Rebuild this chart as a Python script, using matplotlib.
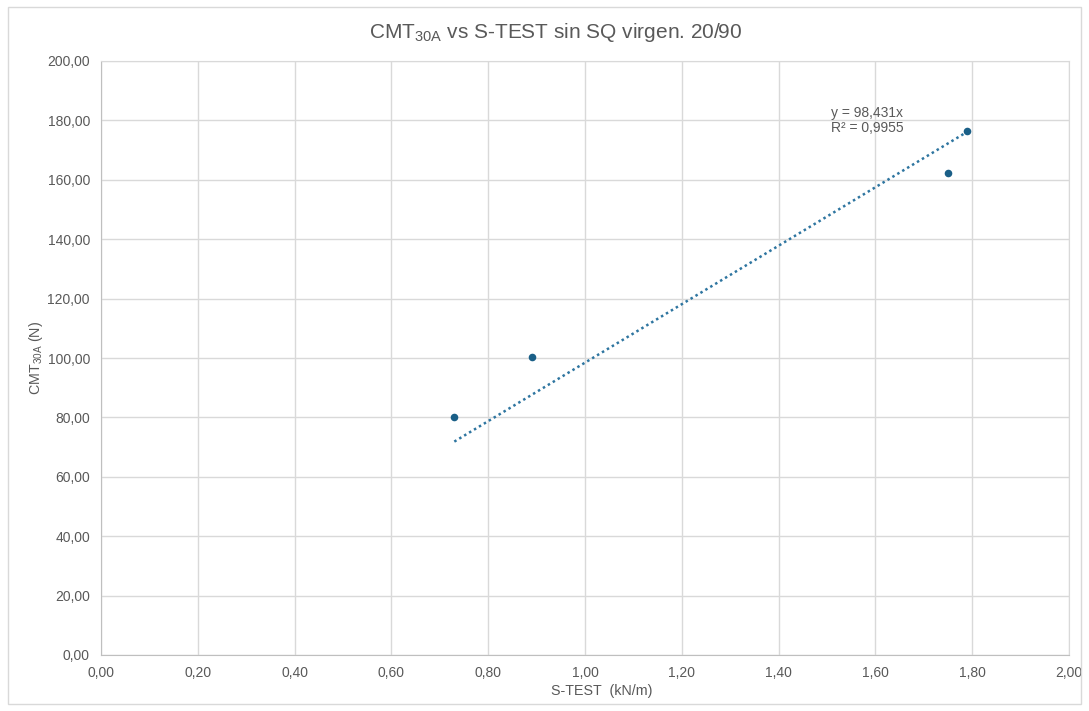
import matplotlib
matplotlib.use("Agg")
import matplotlib.pyplot as plt
from matplotlib.patches import Rectangle
import numpy as np

plt.rcParams['font.family'] = ['Liberation Sans', 'DejaVu Sans']
plt.rcParams['mathtext.default'] = 'regular'

# Data
s_test = [0.73, 0.89, 1.75, 1.79]
cmt30a = [80.0, 100.4, 162.2, 176.3]
slope = 98.431
x_ticks = [0.0, 0.2, 0.4, 0.6, 0.8, 1.0, 1.2, 1.4, 1.6, 1.8, 2.0]
y_ticks = [0, 20, 40, 60, 80, 100, 120, 140, 160, 180, 200]

text_color = '#595959'
grid_color = '#d9d9d9'
mark_color = '#1a5f87'

fig = plt.figure(figsize=(10.89, 7.11), dpi=100)
fig.patches.append(Rectangle((8/1089, 7/711), 1 - 16/1089, 1 - 14/711,
                             transform=fig.transFigure, fill=False,
                             edgecolor='#d9d9d9', linewidth=1))
ax = fig.add_axes([101/1089, 56/711, 968/1089, 594/711])

ax.scatter(s_test, cmt30a, s=30, color=mark_color, zorder=3, linewidths=0)
xt = np.array([min(s_test), max(s_test)])
ax.plot(xt, slope * xt, linestyle=(0, (1, 1.3)), color='#2e75a0', linewidth=1.8, zorder=2)

ax.set_xlim(0, 2.0)
ax.set_ylim(0, 200)
ax.set_xticks(x_ticks)
ax.set_yticks(y_ticks)
ax.set_xticklabels([f"{v:.2f}".replace('.', ',') for v in x_ticks])
ax.set_yticklabels([f"{v:.2f}".replace('.', ',') for v in y_ticks])
ax.tick_params(axis='both', length=0, labelsize=10, colors=text_color, pad=8)
ax.grid(True, color=grid_color, linewidth=1)
ax.set_axisbelow(True)
for sp in ax.spines.values():
    sp.set_color(grid_color)
ax.spines['bottom'].set_color('#bfbfbf')
ax.spines['left'].set_color('#bfbfbf')

ax.set_xlabel('S-TEST  (kN/m)', fontsize=10.3, color=text_color)
ax.xaxis.set_label_coords(0.5176, -29/594)
ax.set_ylabel('CMT$_{30A}$ (N)', fontsize=10.3, color=text_color)
ax.yaxis.set_label_coords(-56/968, 0.5)

ax.text(1.508, 185, 'y = 98,431x\nR² = 0,9955', fontsize=10, color=text_color,
        va='top', ha='left', linespacing=1.1)

fig.text(0.51, 1 - 32/711, 'CMT$_{30A}$ vs S-TEST sin SQ virgen. 20/90',
         fontsize=15, color=text_color, ha='center', va='center')

fig.savefig('out.png', dpi=100)
